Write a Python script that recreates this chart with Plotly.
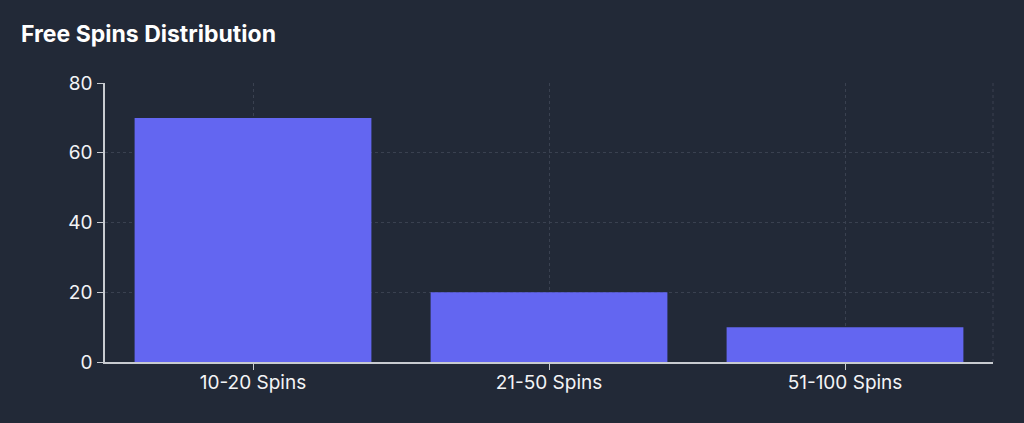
import plotly.graph_objects as go

categories = ["10-20 Spins", "21-50 Spins", "51-100 Spins"]
values = [70, 20, 10]
y_ticks = [0, 20, 40, 60, 80]

BG = "#222937"
GRID = "#3a4150"
AXIS = "#c8cbd0"
TEXT = "#f3f4f6"

fig = go.Figure()
fig.add_trace(go.Bar(x=categories, y=values, marker=dict(color="#6366f1", line=dict(width=0)),
                     hoverinfo="x+y"))

fig.update_layout(
    width=1024, height=423,
    paper_bgcolor=BG, plot_bgcolor=BG,
    margin=dict(l=105, r=31, t=83, b=61),
    font=dict(family="Inter, Roboto, sans-serif", color=TEXT, size=19),
    title=dict(text="<b>Free Spins Distribution</b>", x=21/1024, xanchor="left",
               y=1-34/423, yanchor="middle", font=dict(size=23, color="#ffffff")),
    bargap=0.2,
    showlegend=False,
)
fig.update_xaxes(
    showgrid=True, gridcolor=GRID, griddash="3px,3px", gridwidth=1,
    showline=True, linecolor=AXIS, linewidth=1.5,
    ticks="outside", ticklen=6, tickcolor=AXIS,
    tickfont=dict(size=19, color=TEXT), zeroline=False,
    ticklabelstandoff=-4,
)
fig.update_yaxes(
    range=[0, 80], tickvals=y_ticks,
    showgrid=True, gridcolor=GRID, griddash="3px,3px", gridwidth=1,
    showline=True, linecolor=AXIS, linewidth=1.5,
    ticks="outside", ticklen=6, tickcolor=AXIS,
    tickfont=dict(size=19, color=TEXT), zeroline=False,
    ticklabelstandoff=1,
)
fig.add_shape(type="line", xref="paper", yref="paper", x0=1, x1=1, y0=0, y1=1,
              line=dict(color=GRID, width=1, dash="3px,3px"), layer="below")

fig.write_html("out.html", config={"displayModeBar": False},
               post_script="document.body.style.margin='0';document.body.style.background='#222937';")
